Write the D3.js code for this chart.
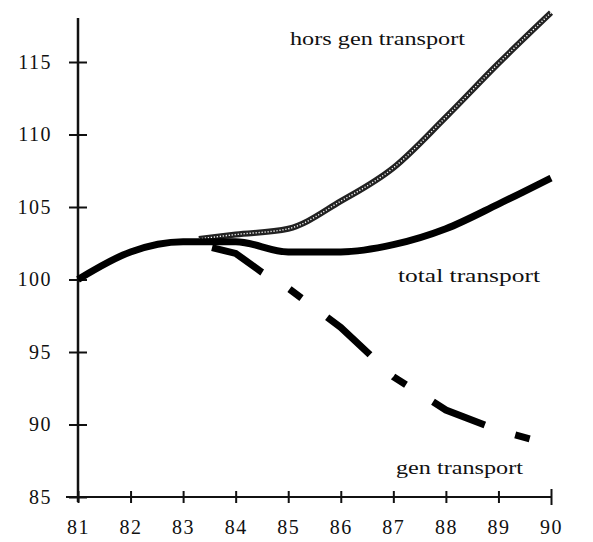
<!DOCTYPE html>
<html>
<head>
<meta charset="utf-8">
<script src="https://cdn.jsdelivr.net/npm/d3@7"></script>
<style>
	body { margin: 0; background: #fff; }
	svg { display: block; }
	.axis text { font-family: "Liberation Serif", serif; font-size: 20px; letter-spacing: 1.5px; fill: #111; }
	.label { font-family: "Liberation Serif", serif; font-size: 18px; fill: #111; }
</style>
</head>
<body>
<svg width="593" height="542"></svg>
<script>
// data (index, 1981 = 100)
var years = [81, 82, 83, 84, 85, 86, 87, 88, 89, 90];
var totalTransport = [100, 101.9, 102.6, 102.6, 101.9, 101.9, 102.4, 103.5, 105.2, 107];

var horsYears = [83.3, 84, 85, 86, 87, 88, 89, 90];
var horsGenTransport = [102.8, 103.1, 103.5, 105.4, 107.7, 111.2, 114.9, 118.4];

var genYears = [83.55, 84, 84.5, 85, 86, 87, 88, 89, 89.7];
var genTransport = [102.2, 101.8, 100.5, 99.4, 96.7, 93.3, 91.0, 89.6, 88.9];

var yTicks = [85, 90, 95, 100, 105, 110, 115];

(function(){

	var svg = d3.select("svg");

	var x = d3.scaleLinear().domain([81, 90]).range([78, 551]),
		y = d3.scaleLinear().domain([85, 115]).range([497, 62]);

	function zip(xs, ys){
		return xs.map(function(d, i){ return [d, ys[i]]; });
	}

	var line = d3.line()
		.x(function(d){ return x(d[0]); })
		.y(function(d){ return y(d[1]); })
		.curve(d3.curveMonotoneX);

	// y axis
	var gy = svg.append("g")
		.attr("class", "axis")
		.attr("transform", "translate(" + x(81) + ",0)")
		.call(d3.axisLeft(y).tickValues(yTicks).tickFormat(d3.format("d")));
	gy.select(".domain").remove();
	gy.selectAll(".tick line").attr("x1", 9).attr("x2", -9).attr("stroke", "#111").attr("stroke-width", 2);
	gy.selectAll(".tick text").attr("x", -26);
	svg.append("line")
		.attr("x1", x(81)).attr("x2", x(81))
		.attr("y1", 18).attr("y2", y(85) + 5)
		.attr("stroke", "#111").attr("stroke-width", 2.5);

	// x axis
	var gx = svg.append("g")
		.attr("class", "axis")
		.attr("transform", "translate(0," + y(85) + ")")
		.call(d3.axisBottom(x).tickValues(years).tickFormat(d3.format("d")));
	gx.select(".domain").remove();
	gx.selectAll(".tick line")
		.attr("y1", function(d){ return d === 90 ? -8 : -6; })
		.attr("y2", function(d){ return d === 90 ? 8 : 6; })
		.attr("stroke", "#111").attr("stroke-width", 2);
	gx.selectAll(".tick text").attr("y", 23);
	svg.append("line")
		.attr("x1", x(81) - 12).attr("x2", x(90))
		.attr("y1", y(85)).attr("y2", y(85))
		.attr("stroke", "#111").attr("stroke-width", 2);

	// hors gen transport (hatched look)
	svg.append("path")
		.datum(zip(horsYears, horsGenTransport))
		.attr("d", line)
		.attr("fill", "none")
		.attr("stroke", "#222")
		.attr("stroke-width", 6);
	svg.append("path")
		.datum(zip(horsYears, horsGenTransport))
		.attr("d", line)
		.attr("fill", "none")
		.attr("stroke", "#fff")
		.attr("stroke-width", 1.4)
		.attr("stroke-dasharray", "1.2,1.8");

	// total transport
	svg.append("path")
		.datum(zip(years, totalTransport))
		.attr("d", line)
		.attr("fill", "none")
		.attr("stroke", "#000")
		.attr("stroke-width", 7)
		.attr("stroke-linejoin", "round");

	// gen transport (dash-dot)
	svg.append("path")
		.datum(zip(genYears, genTransport))
		.attr("d", d3.line().x(function(d){ return x(d[0]); }).y(function(d){ return y(d[1]); }))
		.attr("fill", "none")
		.attr("stroke", "#000")
		.attr("stroke-width", 7)
		.attr("stroke-dasharray", "57,32,15,32");

	// series labels
	svg.append("text").attr("class", "label")
		.attr("x", 290).attr("y", 45)
		.attr("textLength", 175).attr("lengthAdjust", "spacingAndGlyphs")
		.text("hors gen transport");
	svg.append("text").attr("class", "label")
		.attr("x", 398).attr("y", 282)
		.attr("textLength", 142).attr("lengthAdjust", "spacingAndGlyphs")
		.text("total transport");
	svg.append("text").attr("class", "label")
		.attr("x", 396).attr("y", 474)
		.attr("textLength", 127).attr("lengthAdjust", "spacingAndGlyphs")
		.text("gen transport");

})();
</script>
</body>
</html>
